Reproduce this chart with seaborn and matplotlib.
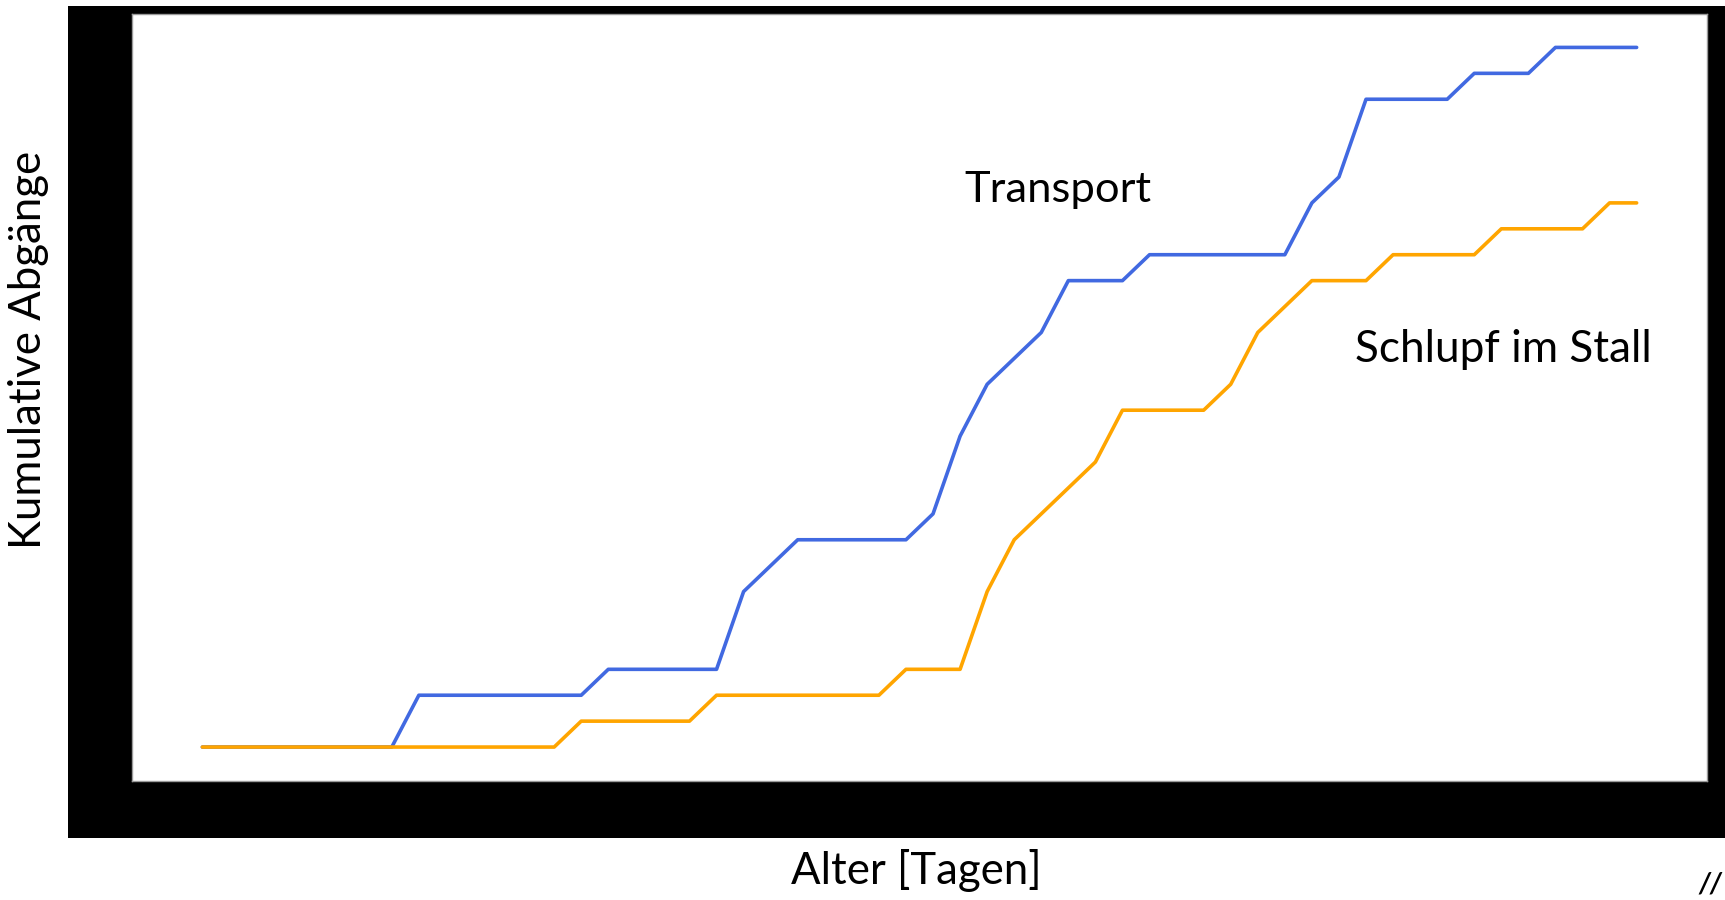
import pandas as pd
import seaborn as sns
import matplotlib.pyplot as plt
from matplotlib.patches import Rectangle

# Data ------------------------------------------------------------------------
days = list(range(54))
transport = [
    0, 0, 0, 0, 0, 0, 0, 0, 2, 2,
    2, 2, 2, 2, 2, 3, 3, 3, 3, 3,
    6, 7, 8, 8, 8, 8, 8, 9, 12, 14,
    15, 16, 18, 18, 18, 19, 19, 19, 19, 19,
    19, 21, 22, 25, 25, 25, 25, 26, 26, 26,
    27, 27, 27, 27,
]
schlupf = [
    0, 0, 0, 0, 0, 0, 0, 0, 0, 0,
    0, 0, 0, 0, 1, 1, 1, 1, 1, 2,
    2, 2, 2, 2, 2, 2, 3, 3, 3, 6,
    8, 9, 10, 11, 13, 13, 13, 13, 14, 16,
    17, 18, 18, 18, 19, 19, 19, 19, 20, 20,
    20, 20, 21, 21,
]
series_names = ["Transport", "Schlupf im Stall"]
colors = {"Transport": "royalblue", "Schlupf im Stall": "orange"}

df = pd.concat(
    [
        pd.DataFrame({"Tag": days, "Abgaenge": transport, "Serie": "Transport"}),
        pd.DataFrame({"Tag": days, "Abgaenge": schlupf, "Serie": "Schlupf im Stall"}),
    ]
)

# Plot ------------------------------------------------------------------------
sns.set_style("white")
plt.rcParams["font.family"] = ["Lato", "DejaVu Sans"]
plt.rcParams["text.color"] = "black"
plt.rcParams["axes.labelcolor"] = "black"

W, H = 1725, 900
fig = plt.figure(figsize=(W / 100, H / 100), dpi=100)

# black frame behind the plot area
fig.add_artist(
    Rectangle(
        (68 / W, 1 - 838 / H), (W - 68) / W, (838 - 6) / H,
        transform=fig.transFigure, facecolor="black", edgecolor="none", zorder=0,
    )
)

ax = fig.add_axes([132 / W, 1 - 781 / H, (1707 - 132) / W, (781 - 14) / H])
ax.set_zorder(1)
sns.lineplot(
    data=df, x="Tag", y="Abgaenge", hue="Serie", hue_order=series_names,
    palette=colors, linewidth=2.6, legend=False, ax=ax,
)
ax.set_xlim(-2.6, 55.6)
ax.set_ylim(-1.31, 28.29)
ax.set_xticks([])
ax.set_yticks([])
for sp in ax.spines.values():
    sp.set_color("#9a9a9a")
    sp.set_linewidth(1)

ax.text(28.17, 21.03, "Transport", fontsize=31.3, va="baseline", ha="left")
ax.text(42.6, 14.86, "Schlupf im Stall", fontsize=31.8, va="baseline", ha="left")

ax.set_xlabel("Alter [Tagen]", fontsize=31.5)
ax.xaxis.set_label_coords(916 / W, 1 - 884 / H, transform=fig.transFigure)
ax.xaxis.label.set_va("baseline")
ax.set_ylabel("Kumulative Abgänge", fontsize=31.5)
ax.yaxis.set_label_coords(29 / W, 1 - 350 / H, transform=fig.transFigure)
ax.yaxis.label.set_va("center")

fig.text(1722 / W, 1 - 884 / H, "//", fontsize=20, fontweight="bold",
         style="italic", va="center", ha="right")

plt.savefig("out.png", dpi=100)
